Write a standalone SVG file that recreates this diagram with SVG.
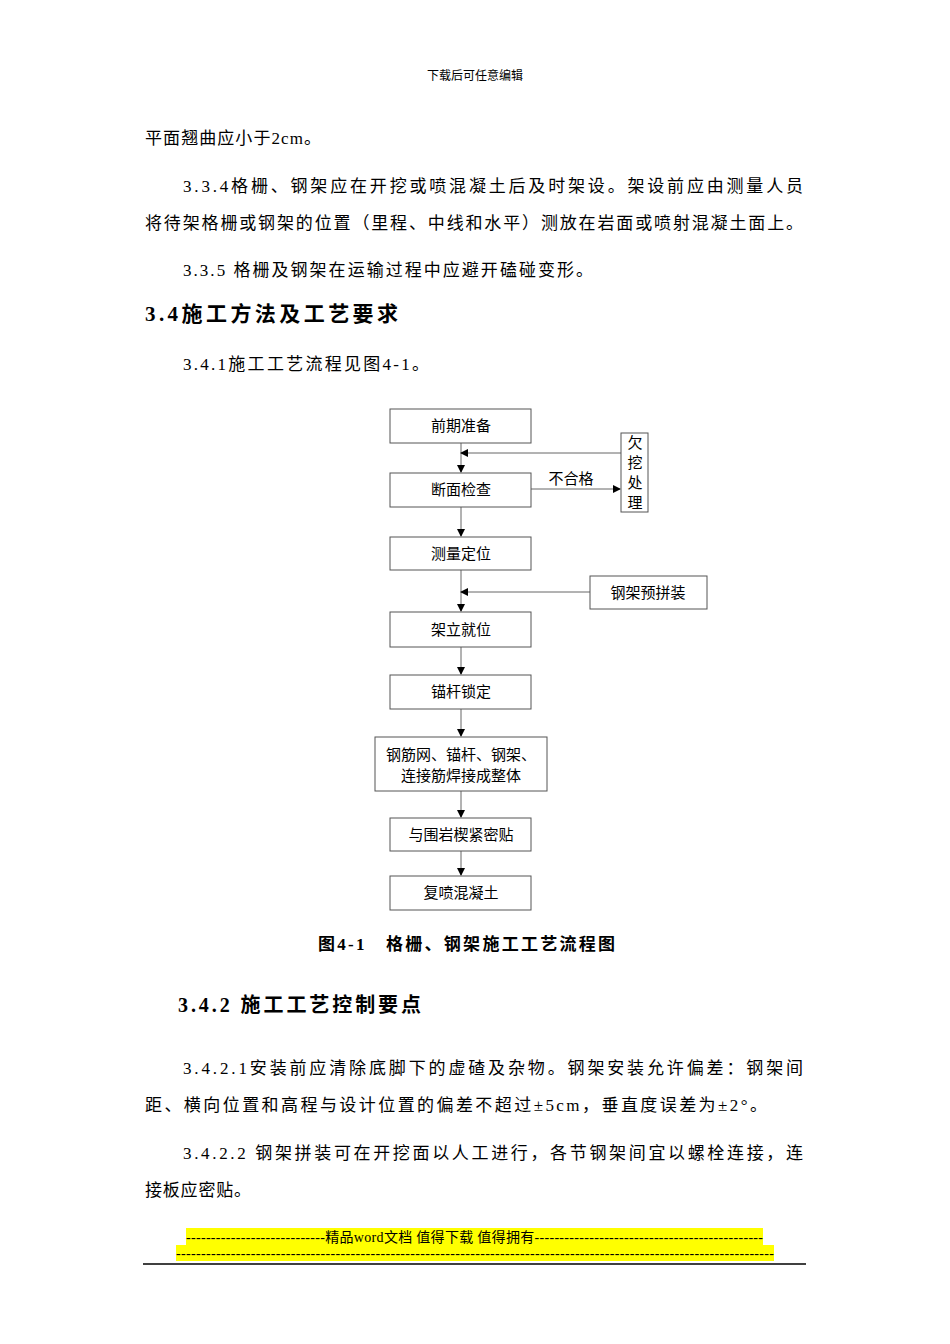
<svg xmlns="http://www.w3.org/2000/svg" width="950" height="1344" viewBox="0 0 950 1344">
<defs>
<style>
text{font-family:"Liberation Serif","Noto Sans CJK SC",serif;fill:#000}
.b{font-size:17px}
.h{font-size:21px;font-weight:bold}
.n{font-size:15px;text-anchor:middle}
rect.box{fill:#fff;stroke:#555;stroke-width:1}
.c line{stroke:#666;stroke-width:1}
</style>
<marker id="a" markerWidth="8" markerHeight="8" refX="7" refY="4" orient="auto" markerUnits="userSpaceOnUse"><path d="M0,0L8,4L0,8z" fill="#000"/></marker>
</defs>
<rect width="950" height="1344" fill="#fff"/>
<text x="475" y="80" font-size="12" text-anchor="middle">下载后可任意编辑</text>
<text class="b" x="145" y="144" textLength="176">平面翘曲应小于2cm。</text>
<text class="b" x="183" y="192" textLength="620">3.3.4格栅、钢架应在开挖或喷混凝土后及时架设。架设前应由测量人员</text>
<text class="b" x="145" y="229" textLength="658">将待架格栅或钢架的位置（里程、中线和水平）测放在岩面或喷射混凝土面上。</text>
<text class="b" x="183" y="276" textLength="410">3.3.5 格栅及钢架在运输过程中应避开磕碰变形。</text>
<text class="h" x="145" y="321" textLength="253">3.4施工方法及工艺要求</text>
<text class="b" x="183" y="370" textLength="246">3.4.1施工工艺流程见图4-1。</text>
<g class="c">
<line x1="461" y1="443" x2="461" y2="472" marker-end="url(#a)"/>
<line x1="621" y1="453" x2="461" y2="453" marker-end="url(#a)"/>
<line x1="531" y1="489" x2="620" y2="489" marker-end="url(#a)"/>
<line x1="461" y1="507" x2="461" y2="536" marker-end="url(#a)"/>
<line x1="461" y1="570" x2="461" y2="611" marker-end="url(#a)"/>
<line x1="590" y1="592" x2="461" y2="592" marker-end="url(#a)"/>
<line x1="461" y1="647" x2="461" y2="674" marker-end="url(#a)"/>
<line x1="461" y1="709" x2="461" y2="736" marker-end="url(#a)"/>
<line x1="461" y1="791" x2="461" y2="817" marker-end="url(#a)"/>
<line x1="461" y1="851" x2="461" y2="875" marker-end="url(#a)"/>
</g>
<text x="571" y="484" font-size="15" text-anchor="middle">不合格</text>
<g id="n1"><rect class="box" x="390" y="409" width="141" height="34"/><text class="n" x="461" y="431">前期准备</text></g>
<g id="n2"><rect class="box" x="390" y="473" width="141" height="34"/><text class="n" x="461" y="495">断面检查</text></g>
<g id="n3"><rect class="box" x="621" y="433" width="27" height="79"/><text class="n" x="635" y="448">欠</text><text class="n" x="635" y="468">挖</text><text class="n" x="635" y="488">处</text><text class="n" x="635" y="508">理</text></g>
<g id="n4"><rect class="box" x="390" y="537" width="141" height="33"/><text class="n" x="461" y="559">测量定位</text></g>
<g id="n5"><rect class="box" x="590" y="576" width="117" height="33"/><text class="n" x="648" y="598">钢架预拼装</text></g>
<g id="n6"><rect class="box" x="390" y="612" width="141" height="35"/><text class="n" x="461" y="635">架立就位</text></g>
<g id="n7"><rect class="box" x="390" y="675" width="141" height="34"/><text class="n" x="461" y="697">锚杆锁定</text></g>
<g id="n8"><rect class="box" x="375" y="737" width="172" height="54"/><text class="n" x="461" y="760">钢筋网、锚杆、钢架、</text><text class="n" x="461" y="781">连接筋焊接成整体</text></g>
<g id="n9"><rect class="box" x="390" y="818" width="141" height="33"/><text class="n" x="461" y="840">与围岩楔紧密贴</text></g>
<g id="n10"><rect class="box" x="390" y="876" width="141" height="34"/><text class="n" x="461" y="898">复喷混凝土</text></g>
<text x="318" y="950" font-size="17" font-weight="bold" textLength="297">图4-1　格栅、钢架施工工艺流程图</text>
<text x="178" y="1012" font-size="20" font-weight="bold" textLength="243">3.4.2 施工工艺控制要点</text>
<text class="b" x="183" y="1074" textLength="620">3.4.2.1安装前应清除底脚下的虚碴及杂物。钢架安装允许偏差：钢架间</text>
<text class="b" x="145" y="1111" textLength="622">距、横向位置和高程与设计位置的偏差不超过±5cm，垂直度误差为±2°。</text>
<text class="b" x="183" y="1159" textLength="620">3.4.2.2 钢架拼装可在开挖面以人工进行，各节钢架间宜以螺栓连接，连</text>
<text class="b" x="145" y="1196" textLength="106">接板应密贴。</text>
<rect x="186" y="1228" width="577" height="17" fill="#ff0"/>
<rect x="176" y="1245" width="598" height="16" fill="#ff0"/>
<text x="186" y="1242" font-size="14" textLength="577">----------------------------精品word文档 值得下载 值得拥有----------------------------------------------</text>
<text x="176" y="1258" font-size="14" textLength="598">------------------------------------------------------------------------------------------------------------------------</text>
<line x1="143" y1="1264" x2="806" y2="1264" stroke="#000" stroke-width="1.5"/>
</svg>
